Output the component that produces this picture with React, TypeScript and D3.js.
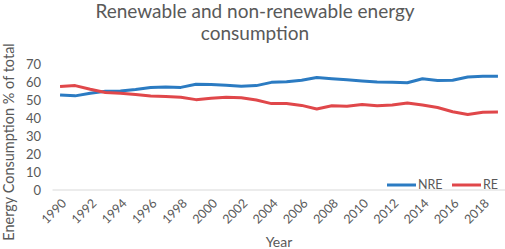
import React from "react";
import * as d3 from "d3";

const years = d3.range(1990, 2020);
const nre = [52.8, 52.3, 53.8, 54.8, 55.0, 55.8, 57.0, 57.2, 57.0, 58.7, 58.6, 58.2, 57.6, 58.0, 59.8, 60.2, 61.0, 62.5, 61.8, 61.2, 60.6, 60.0, 59.8, 59.6, 61.8, 60.8, 61.0, 62.8, 63.2, 63.2];
const re = [57.5, 58.0, 56.0, 54.2, 53.8, 53.0, 52.2, 52.0, 51.5, 50.2, 51.0, 51.5, 51.3, 50.0, 48.0, 48.0, 47.0, 45.0, 46.8, 46.5, 47.5, 46.8, 47.2, 48.3, 47.2, 45.8, 43.5, 42.0, 43.2, 43.3];
const yTicks = [0, 10, 20, 30, 40, 50, 60, 70];
const seriesNames = ["NRE", "RE"];
const colors = ["#2b7bc2", "#e0474a"];

export default function App() {
  const W = 505, H = 249;
  const x = d3.scaleBand<number>().domain(years).range([52.5, 505.5]);
  const y = d3.scaleLinear().domain([0, 70]).range([190, 64]);
  const cx = (yr: number) => (x(yr) as number) + x.bandwidth() / 2;
  const line = d3.line<number>().x((_, i) => cx(years[i])).y((d) => y(d));
  const font = "Lato, 'Open Sans', sans-serif";
  const grey = "#595959";
  return (
    <svg width={W} height={H} style={{ position: "absolute", left: 0, top: 0, background: "#fff" }} fontFamily={font}>
      <text x={255} y={18} textAnchor="middle" fontSize={19} fill={grey}>Renewable and non-renewable energy</text>
      <text x={255} y={40} textAnchor="middle" fontSize={19} fill={grey}>consumption</text>
      <line x1={52.5} x2={505} y1={y(0)} y2={y(0)} stroke="#d9d9d9" strokeWidth={1} />
      {yTicks.map((t) => (
        <text key={t} x={41} y={y(t)} dy="0.35em" textAnchor="end" fontSize={13} fill={grey}>{t}</text>
      ))}
      {years.filter((yr) => yr % 2 === 0).map((yr) => (
        <text key={yr} transform={`translate(${cx(yr) + 4},${y(0) + 11}) rotate(-45)`} textAnchor="end" dy="0.35em" fontSize={12.5} fill={grey}>{yr}</text>
      ))}
      <path d={line(nre) || ""} fill="none" stroke={colors[0]} strokeWidth={3} strokeLinejoin="round" />
      <path d={line(re) || ""} fill="none" stroke={colors[1]} strokeWidth={3} strokeLinejoin="round" />
      {seriesNames.map((n, i) => {
        const lx = i === 0 ? 387 : 452;
        return (
          <g key={n}>
            <line x1={lx} x2={lx + 29} y1={185} y2={185} stroke={colors[i]} strokeWidth={3} />
            <text x={lx + 31} y={185} dy="0.35em" fontSize={12.5} fill={grey}>{n}</text>
          </g>
        );
      })}
      <text transform={`translate(14,${142}) rotate(-90)`} textAnchor="middle" fontSize={14.5} fill={grey}>Energy Consumption % of total</text>
      <text x={279} y={247} textAnchor="middle" fontSize={14} fill={grey}>Year</text>
    </svg>
  );
}
